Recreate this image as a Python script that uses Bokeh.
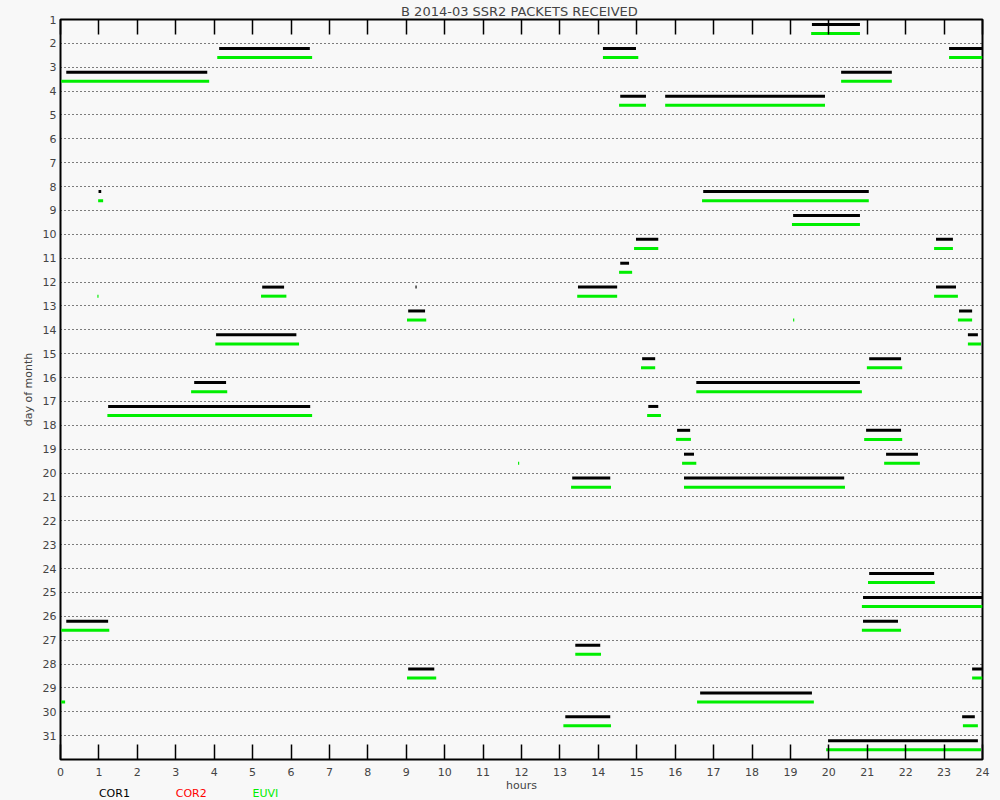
from bokeh.plotting import figure
from bokeh.models import Range1d, FixedTicker, LinearAxis
from bokeh.layouts import column
from bokeh.core.properties import value
from bokeh.embed import file_html
from bokeh.resources import INLINE

# ---- data ----
day_ticks = list(range(1, 32))
hour_ticks = list(range(0, 25))

cor1_day = [1, 2, 2, 2, 3, 3, 4, 4, 8, 8, 9, 10, 10, 11,
            12, 12, 12, 12, 13, 13, 14, 14, 15, 15, 16, 16, 17, 17,
            18, 18, 19, 19, 20, 20, 24, 25, 26, 26, 27, 28, 28, 29,
            30, 30, 31]
cor1_start = [19.56, 4.13, 14.12, 23.13, 0.15, 20.32, 14.57, 15.74, 0.99, 16.73, 19.07, 14.98, 22.79, 14.57,
              5.25, 9.24, 13.47, 22.79, 9.05, 23.39, 4.05, 23.62, 15.14, 21.05, 3.48, 16.55, 1.24, 15.30,
              16.05, 20.97, 16.23, 21.49, 13.32, 16.23, 21.05, 20.89, 0.15, 20.89, 13.40, 9.05, 23.73, 16.65,
              13.14, 23.47, 19.98]
cor1_end = [20.81, 6.49, 14.98, 24.0, 3.82, 21.64, 15.24, 19.90, 1.06, 21.04, 20.81, 15.56, 23.23, 14.80,
            5.82, 9.27, 14.49, 23.31, 9.49, 23.73, 6.14, 23.88, 15.48, 21.88, 4.31, 20.81, 6.50, 15.56,
            16.39, 21.88, 16.49, 22.32, 14.31, 20.40, 22.74, 24.0, 1.24, 21.80, 14.05, 9.73, 24.0, 19.56,
            14.31, 23.80, 23.88]

euvi_day = [1, 2, 2, 2, 3, 3, 4, 4, 8, 8, 9, 10, 10, 11,
            12, 12, 12, 12, 13, 13, 13, 14, 14, 15, 15, 16, 16, 17, 17,
            18, 18, 19, 19, 19, 20, 20, 24, 25, 26, 26, 27, 28, 28, 29, 29,
            30, 30, 31]
euvi_start = [19.54, 4.08, 14.12, 23.13, 0.02, 20.32, 14.54, 15.74, 0.98, 16.70, 19.04, 14.93, 22.74, 14.54,
              0.96, 5.22, 13.45, 22.74, 9.02, 19.07, 23.36, 4.03, 23.62, 15.11, 20.99, 3.40, 16.55, 1.22, 15.27,
              16.02, 20.92, 11.91, 16.18, 21.44, 13.29, 16.23, 21.02, 20.86, 0.02, 20.86, 13.40, 9.02, 23.73, 0.02, 16.57,
              13.09, 23.49, 19.93]
euvi_end = [20.81, 6.55, 15.04, 24.0, 3.87, 21.64, 15.24, 19.90, 1.11, 21.04, 20.81, 15.56, 23.23, 14.88,
            0.99, 5.88, 14.49, 23.36, 9.52, 19.10, 23.73, 6.21, 23.96, 15.48, 21.91, 4.34, 20.86, 6.55, 15.63,
            16.41, 21.91, 11.94, 16.55, 22.37, 14.33, 20.42, 22.76, 24.0, 1.27, 21.88, 14.07, 9.78, 24.0, 0.12, 19.61,
            14.33, 23.88, 23.96]

legend_names = ["COR1", "COR2", "EUVI"]
legend_colors = ["#000000", "#ff0000", "#00ee00"]
legend_hours = [1.0, 3.0, 5.0]

BG = "#f8f8f8"
FONT = "DejaVu Sans"

p = figure(frame_width=922, frame_height=740,
           x_range=Range1d(0, 24), y_range=Range1d(32, 1),
           output_backend="svg", toolbar_location=None,
           background_fill_color=BG, border_fill_color=BG,
           min_border_left=60, min_border_right=18,
           min_border_top=19, min_border_bottom=34,
           title="B  2014-03 SSR2 PACKETS RECEIVED")

p.title.align = "center"
p.title.offset = -14
p.title.text_font = FONT
p.title.text_font_size = "13px"
p.title.text_font_style = "normal"
p.title.standoff = 2

p.outline_line_color = "black"
p.outline_line_width = 2

# x axis (bottom)
xa = p.xaxis[0]
xa.ticker = FixedTicker(ticks=hour_ticks)
xa.major_tick_in = 15
xa.major_tick_out = 0
xa.minor_tick_line_color = None
xa.major_tick_line_color = "black"
xa.major_tick_line_width = 1.5
xa.axis_line_color = "black"
xa.major_label_text_font = FONT
xa.major_label_text_font_size = "11px"
xa.major_label_standoff = 8
xa.axis_label = "hours"
xa.axis_label_text_font = FONT
xa.axis_label_text_font_size = "11px"
xa.axis_label_text_font_style = "normal"
xa.axis_label_standoff = 0

# top ticks (no labels)
ta = LinearAxis(ticker=FixedTicker(ticks=hour_ticks), major_tick_in=15, major_tick_out=0,
                minor_tick_line_color=None, major_tick_line_width=1.5,
                major_label_overrides={h: "" for h in hour_ticks}, major_label_standoff=0,
                axis_line_color="black")
p.add_layout(ta, "above")

# y axis
ya = p.yaxis[0]
ya.ticker = FixedTicker(ticks=day_ticks)
ya.major_tick_in = 0
ya.major_tick_out = 0
ya.minor_tick_line_color = None
ya.axis_line_color = "black"
ya.major_label_text_font = FONT
ya.major_label_text_font_size = "11px"
ya.major_label_standoff = 4
ya.axis_label = "day of month"
ya.axis_label_text_font = FONT
ya.axis_label_text_font_size = "11px"
ya.axis_label_text_font_style = "normal"
ya.axis_label_standoff = 5

p.xgrid.grid_line_color = None
p.ygrid.ticker = FixedTicker(ticks=day_ticks[1:])
p.ygrid.grid_line_color = "black"
p.ygrid.grid_line_dash = "1 3"
p.ygrid.grid_line_width = 1

cor1_y = [d + 0.21 for d in cor1_day]
euvi_y = [d + 0.59 for d in euvi_day]

p.segment(x0=cor1_start, y0=cor1_y, x1=cor1_end, y1=cor1_y,
          line_color="black", line_width=3, line_cap="butt")
p.segment(x0=euvi_start, y0=euvi_y, x1=euvi_end, y1=euvi_y,
          line_color="#00ee00", line_width=3, line_cap="butt")

# legend strip (instrument names in their colours)
p2 = figure(frame_width=922, frame_height=14, x_range=p.x_range, y_range=Range1d(-1, 1),
            output_backend="svg", toolbar_location=None,
            x_axis_type=None, y_axis_type=None,
            min_border_left=60, min_border_right=18, min_border_top=0, min_border_bottom=0,
            background_fill_color=None, border_fill_color=None, outline_line_color=None)
p2.xgrid.visible = False
p2.ygrid.visible = False
p2.styles = {"margin-top": "-8px"}
p2.text(x=legend_hours, y=[0, 0, 0], text=legend_names, text_color=legend_colors,
        text_font=value(FONT), text_font_size=value("11px"),
        text_baseline="middle", text_align="left")

layout = column(p, p2, spacing=0)
layout.styles = {"background-color": BG}

open("out.html", "w").write(file_html(layout, INLINE))
